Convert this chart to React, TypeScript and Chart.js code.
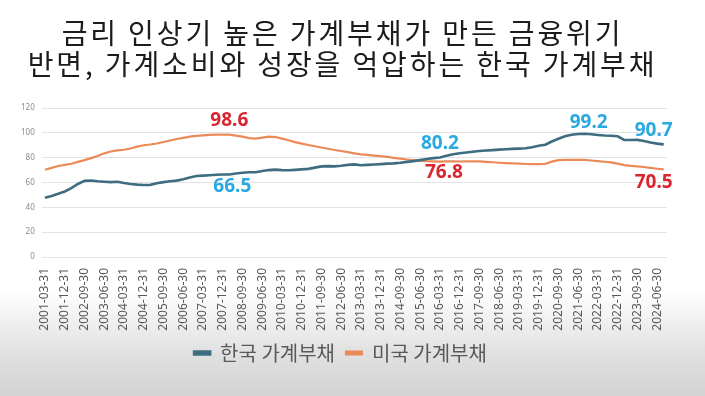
import React, { useEffect, useRef } from "react";
import { Chart, registerables } from "chart.js";

Chart.register(...registerables);

const titleLines = [
  "금리 인상기 높은 가계부채가 만든 금융위기",
  "반면, 가계소비와 성장을 억압하는 한국 가계부채",
];

const seriesNames = ["한국 가계부채", "미국 가계부채"];

const startYear = 2001;
const quarterEnds = ["03-31", "06-30", "09-30", "12-31"];

const korea = [
  47.7, 49.2, 51.0, 52.8, 55.5, 58.8, 61.3, 61.6, 61.0, 60.6,
  60.3, 60.6, 59.6, 58.8, 58.3, 58.0, 58.1, 59.4, 60.3, 61.0,
  61.5, 62.6, 64.0, 65.2, 65.5, 65.8, 66.2, 66.4, 66.5, 67.2,
  67.8, 68.3, 68.2, 69.3, 70.0, 70.4, 70.0, 69.9, 70.2, 70.6,
  71.0, 72.0, 73.0, 73.2, 73.0, 73.5, 74.2, 74.6, 73.9, 74.2,
  74.5, 74.8, 75.2, 75.4, 75.9, 76.6, 77.2, 78.0, 78.9, 79.6,
  80.2, 81.5, 82.7, 83.5, 84.2, 84.8, 85.4, 85.8, 86.1, 86.5,
  86.8, 87.1, 87.3, 87.6, 88.4, 89.6, 90.4, 93.0, 95.2, 97.2,
  98.4, 99.0, 99.2, 98.9, 98.3, 97.8, 97.6, 97.2, 94.3, 94.2,
  94.3, 93.5, 92.2, 91.3, 90.7,
];

const usa = [
  70.3, 71.8, 73.3, 74.2, 75.1, 76.6, 78.0, 79.6, 81.3, 83.5,
  85.0, 85.8, 86.4, 87.4, 88.9, 90.0, 90.6, 91.4, 92.6, 93.8,
  95.0, 96.0, 96.9, 97.5, 97.9, 98.3, 98.5, 98.6, 98.6, 97.8,
  97.0, 95.8, 95.4, 96.2, 97.0, 96.6, 95.3, 94.0, 92.5, 91.3,
  90.2, 89.2, 88.2, 87.2, 86.2, 85.4, 84.4, 83.5, 82.7, 82.2,
  81.7, 81.2, 80.6, 79.9, 79.2, 78.5, 78.0, 77.6, 77.2, 77.0,
  76.8, 77.0, 77.1, 76.9, 77.0, 77.1, 77.0, 76.6, 76.3, 75.9,
  75.6, 75.4, 75.2, 74.9, 74.8, 74.8, 75.0, 76.8, 78.0, 78.3,
  78.2, 78.3, 78.2, 77.7, 77.2, 76.7, 76.2, 75.2, 74.0, 73.4,
  73.0, 72.5, 71.8, 71.1, 70.5,
];

const categories = korea.map(
  (_, i) => `${startYear + Math.floor(i / 4)}-${quarterEnds[i % 4]}`
);

// annotated point indices per series
const koreaLabelIdx = [28, 60, 82, 94];
const usaLabelIdx = [28, 60, 94];

const KOREA_COLOR = "#3e6c80";
const USA_COLOR = "#ec8a57";
const KOREA_LABEL = "#2aa9e1";
const USA_LABEL = "#d9252f";

// offsets (style) for labels, per annotated point
const koreaLabelOffsets = [
  [3, 12],
  [0, -14],
  [4, -11],
  [-10, -14],
];
const usaLabelOffsets = [
  [0, -14],
  [4, 11],
  [-10, 13],
];

const valueLabelPlugin = {
  id: "valueLabels",
  afterDatasetsDraw(chart: any) {
    const ctx = chart.ctx;
    const groups = [
      { ds: 0, idx: koreaLabelIdx, off: koreaLabelOffsets, color: KOREA_LABEL },
      { ds: 1, idx: usaLabelIdx, off: usaLabelOffsets, color: USA_LABEL },
    ];
    ctx.save();
    ctx.font = 'bold 19px "Noto Sans"';
    ctx.textAlign = "center";
    ctx.textBaseline = "middle";
    groups.forEach((g) => {
      const meta = chart.getDatasetMeta(g.ds);
      const data = chart.data.datasets[g.ds].data as number[];
      g.idx.forEach((i, k) => {
        const pt = meta.data[i];
        if (!pt) return;
        ctx.fillStyle = g.color;
        ctx.fillText(
          data[i].toFixed(1),
          pt.x + g.off[k][0],
          pt.y + g.off[k][1]
        );
      });
    });
    ctx.restore();
  },
};

export default function App() {
  const canvasRef = useRef<HTMLCanvasElement | null>(null);

  useEffect(() => {
    document.body.style.margin = "0";
    const canvas = canvasRef.current;
    if (!canvas) return;
    const chart = new Chart(canvas, {
      type: "line",
      data: {
        labels: categories,
        datasets: [
          {
            label: seriesNames[0],
            data: korea,
            borderColor: KOREA_COLOR,
            backgroundColor: KOREA_COLOR,
            borderWidth: 2.6,
            pointRadius: 0,
            tension: 0,
          },
          {
            label: seriesNames[1],
            data: usa,
            borderColor: USA_COLOR,
            backgroundColor: USA_COLOR,
            borderWidth: 2.2,
            pointRadius: 0,
            tension: 0,
          },
        ],
      },
      options: {
        responsive: false,
        animation: false,
        devicePixelRatio: 1,
        layout: { padding: { left: 14, right: 38, top: 108, bottom: 23 } },
        plugins: {
          title: { display: false },
          legend: {
            display: true,
            position: "bottom",
            labels: {
              boxWidth: 16,
              boxHeight: 3,
              padding: 11,
              color: "#595959",
              font: { family: '"Noto Sans CJK KR", sans-serif', size: 20 },
            },
          },
          tooltip: { enabled: false },
        },
        scales: {
          x: {
            offset: true,
            grid: { display: false, drawTicks: false },
            border: { display: false },
            afterFit: (scale: any) => {
              scale.height = 75;
            },
            ticks: {
              autoSkip: false,
              minRotation: 90,
              maxRotation: 90,
              padding: 11,
              color: "#595959",
              font: { family: '"Noto Sans", sans-serif', size: 12 },
              callback: (_v: any, i: number) =>
                i % 3 === 0 ? categories[i] : "",
            },
          },
          y: {
            min: 0,
            max: 120,
            ticks: {
              stepSize: 20,
              padding: 7,
              color: "#8c8c8c",
              font: { family: '"Noto Sans", sans-serif', size: 8 },
            },
            grid: { color: "#e3e3e3", lineWidth: 1, drawTicks: false },
            border: { display: false },
          },
        },
      },
      plugins: [valueLabelPlugin],
    } as any);
    return () => chart.destroy();
  }, []);

  return (
    <div
      style={{
        width: 705,
        height: 396,
        position: "relative",
        overflow: "hidden",
        background:
          "linear-gradient(to bottom, #ffffff 0px, #ffffff 292px, #e2e2e2 350px, #d3d3d3 396px)",
      }}
    >
      <div
        style={{
          position: "absolute",
          left: 0,
          top: 17,
          width: 685,
          textAlign: "center",
          fontFamily: '"Noto Sans CJK KR", sans-serif',
          fontSize: 28,
          lineHeight: "30.5px",
          letterSpacing: "2.9px",
          color: "#1c1c1c",
          whiteSpace: "nowrap",
        }}
      >
        {titleLines.map((t, i) => (
          <div key={i}>{t}</div>
        ))}
      </div>
      <canvas ref={canvasRef} width={705} height={396} />
    </div>
  );
}
